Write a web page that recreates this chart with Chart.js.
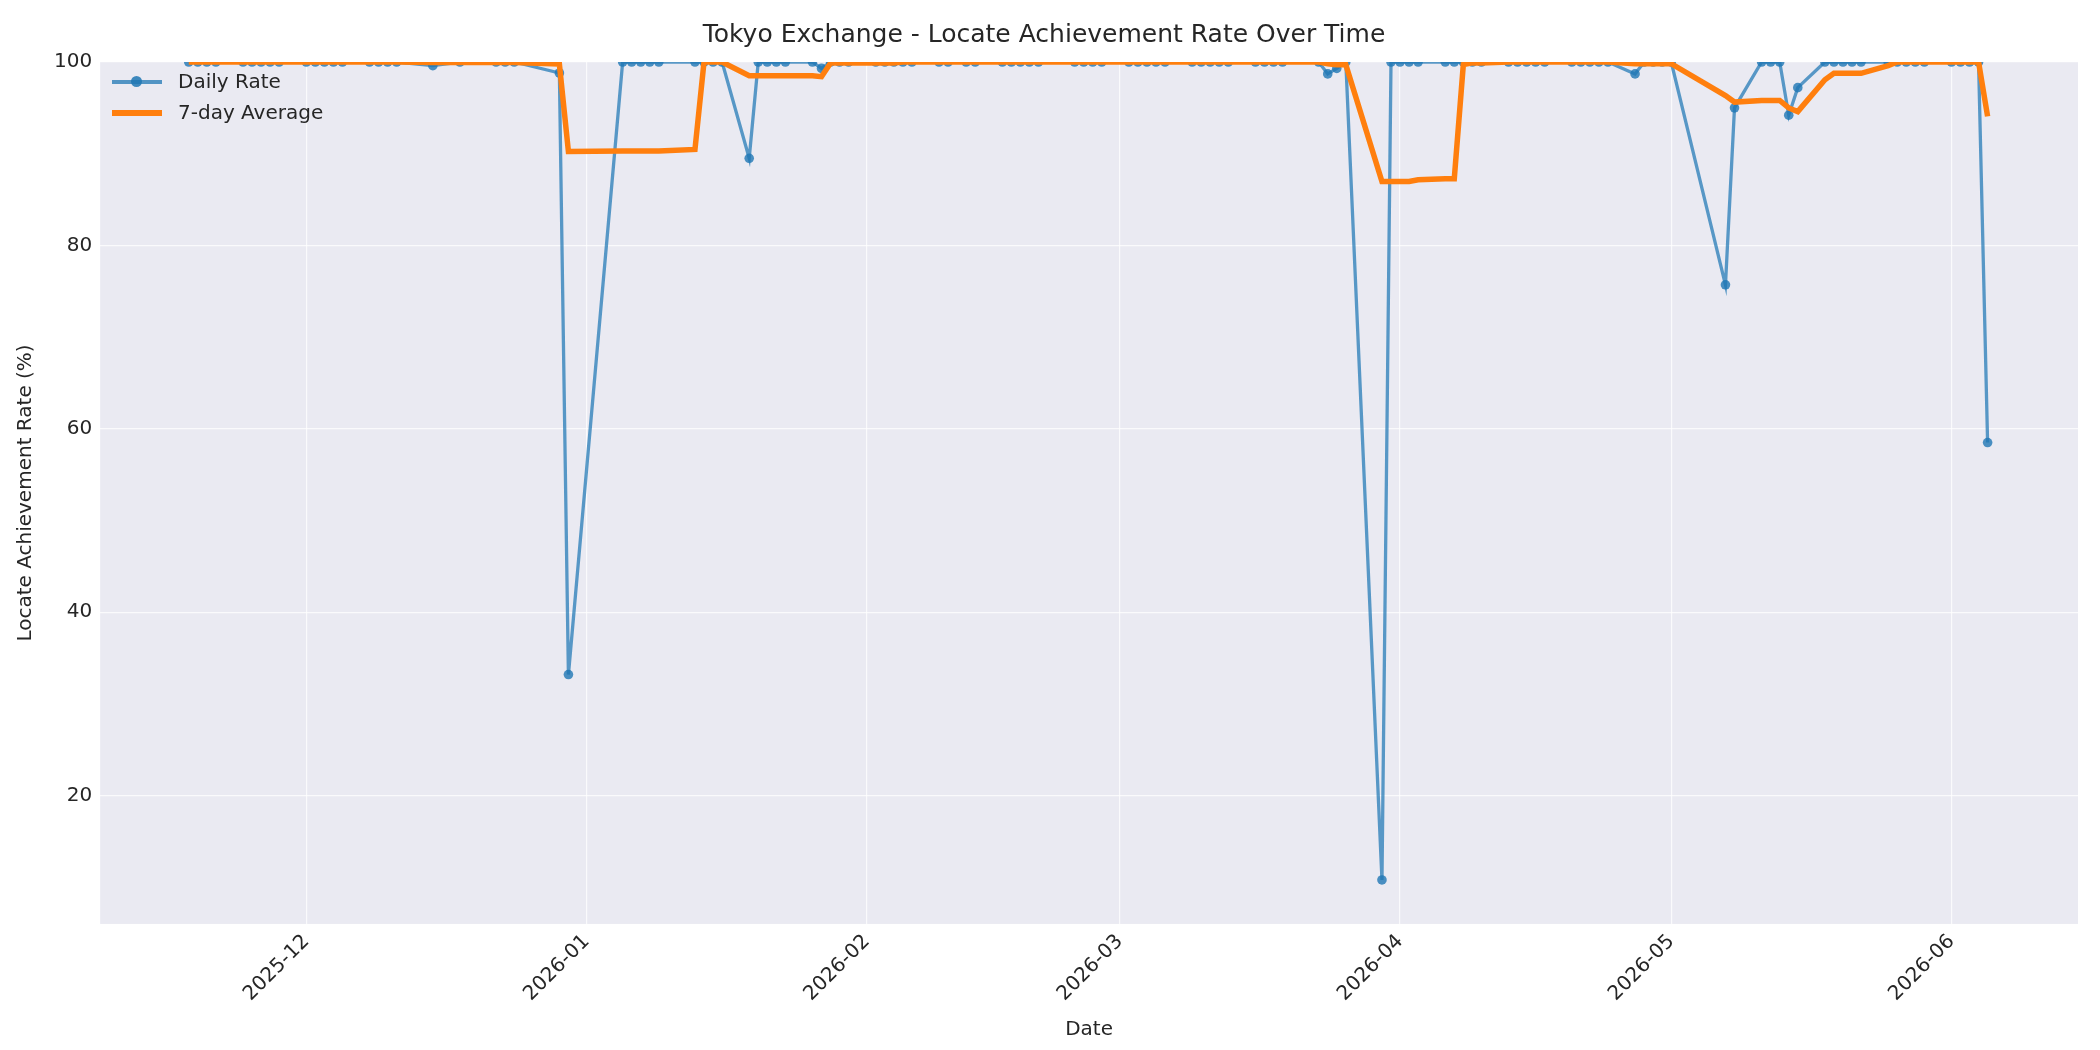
<!DOCTYPE html>
<html><head><meta charset="utf-8">
<script src="https://cdn.jsdelivr.net/npm/chart.js@4.4.1/dist/chart.umd.min.js"></script>
<style>
html,body{margin:0;padding:0;background:#fff;}
#wrap{position:relative;width:2100px;height:1050px;}
#legend{position:absolute;left:112px;top:66px;font-family:"DejaVu Sans";font-size:20px;color:#262626;line-height:31px;}
.li{display:flex;align-items:center;}
.sw{width:50px;height:20px;position:relative;margin-right:16px;}
</style></head>
<body><div id="wrap"><canvas id="c" width="2100" height="1050"></canvas>
<div id="legend">
<div class="li"><div class="sw"><div style="position:absolute;left:0;top:8px;width:50px;height:4px;background:rgba(31,119,180,0.75)"></div><div style="position:absolute;left:19px;top:4px;width:11px;height:11px;border-radius:50%;background:rgba(31,119,180,0.85)"></div></div>Daily Rate</div>
<div class="li"><div class="sw"><div style="position:absolute;left:0;top:7px;width:50px;height:6px;background:#ff7f0e"></div></div>7-day Average</div>
</div></div>
<script>
const dates = [
"2025-11-18","2025-11-19","2025-11-20","2025-11-21",
"2025-11-24","2025-11-25","2025-11-26","2025-11-27","2025-11-28",
"2025-12-01","2025-12-02","2025-12-03","2025-12-04","2025-12-05",
"2025-12-08","2025-12-09","2025-12-10","2025-12-11",
"2025-12-15","2025-12-18",
"2025-12-22","2025-12-23","2025-12-24",
"2025-12-29","2025-12-30",
"2026-01-05","2026-01-06","2026-01-07","2026-01-08","2026-01-09",
"2026-01-13","2026-01-14","2026-01-15","2026-01-16",
"2026-01-19","2026-01-20","2026-01-21","2026-01-22","2026-01-23",
"2026-01-26","2026-01-27","2026-01-28","2026-01-29","2026-01-30",
"2026-02-02","2026-02-03","2026-02-04","2026-02-05","2026-02-06",
"2026-02-09","2026-02-10","2026-02-12","2026-02-13",
"2026-02-16","2026-02-17","2026-02-18","2026-02-19","2026-02-20",
"2026-02-24","2026-02-25","2026-02-26","2026-02-27",
"2026-03-02","2026-03-03","2026-03-04","2026-03-05","2026-03-06",
"2026-03-09","2026-03-10","2026-03-11","2026-03-12","2026-03-13",
"2026-03-16","2026-03-17","2026-03-18","2026-03-19",
"2026-03-23","2026-03-24","2026-03-25","2026-03-26",
"2026-03-30","2026-03-31","2026-04-01","2026-04-02","2026-04-03",
"2026-04-06","2026-04-07","2026-04-08","2026-04-09","2026-04-10",
"2026-04-13","2026-04-14","2026-04-15","2026-04-16","2026-04-17",
"2026-04-20","2026-04-21","2026-04-22","2026-04-23","2026-04-24",
"2026-04-27","2026-04-28","2026-04-29","2026-04-30","2026-05-01",
"2026-05-07","2026-05-08",
"2026-05-11","2026-05-12","2026-05-13","2026-05-14","2026-05-15",
"2026-05-18","2026-05-19","2026-05-20","2026-05-21","2026-05-22",
"2026-05-25","2026-05-26","2026-05-27","2026-05-28","2026-05-29",
"2026-06-01","2026-06-02","2026-06-03","2026-06-04","2026-06-05"];
const dailyRate = [
100,100,100,100,
100,100,100,100,100,
100,100,100,100,100,
100,100,100,100,
99.6,100,
100,100,100,
98.8,33.2,
100,100,100,100,100,
100,100,100,100,
89.5,100,100,100,100,
100,99.3,100,100,100,
100,100,100,100,100,
100,100,100,100,
100,100,100,100,100,
100,100,100,100,
100,100,100,100,100,
100,100,100,100,100,
100,100,100,100,
100,98.7,99.3,100,
10.8,100,100,100,100,
100,100,100,100,100,
100,100,100,100,100,
100,100,100,100,100,
98.7,100,100,100,100,
75.7,95.0,
100,100,100,94.2,97.2,
100,100,100,100,100,
100,100,100,100,100,
100,100,100,100,58.5];
const avg7 = [
100,100,100,100,
100,100,100,100,100,
100,100,100,100,100,
100,100,100,100,
99.94,99.94,
99.94,99.94,99.94,
99.77,90.23,
90.29,90.29,90.29,90.29,90.29,
90.46,100,100,100,
98.5,98.5,98.5,98.5,98.5,
98.5,98.4,99.9,99.9,99.9,
99.9,99.9,99.9,100,100,
100,100,100,100,
100,100,100,100,100,
100,100,100,100,
100,100,100,100,100,
100,100,100,100,100,
100,100,100,100,
100,99.81,99.71,99.71,
86.97,86.97,86.97,86.97,87.16,
87.26,87.26,99.71,99.9,99.9,
100,100,100,100,100,
100,100,100,100,100,
99.81,99.81,99.81,99.81,99.81,
96.34,95.63,
95.81,95.81,95.81,94.99,94.59,
98.06,98.77,98.77,98.77,98.77,
99.6,100,100,100,100,
100,100,100,100,94.07];
const monthTicks = ["2025-12","2026-01","2026-02","2026-03","2026-04","2026-05","2026-06"];
const yTicks = [20,40,60,80,100];

const D0 = Date.UTC(2025,11,1);
const toDay = s => { const p=s.split("-").map(Number); return (Date.UTC(p[0],p[1]-1,p[2]||1)-D0)/86400000; };
const xs = dates.map(toDay);
const tickPos = monthTicks.map(toDay);
const F = "DejaVu Sans";

const bg = {id:'bg',beforeDraw(c){const a=c.chartArea,x=c.ctx;x.save();x.fillStyle='#eaeaf2';x.fillRect(a.left,a.top,a.right-a.left,a.bottom-a.top);x.restore();}};

new Chart(document.getElementById('c'),{
 type:'line',
 data:{datasets:[
  {label:'Daily Rate',data:xs.map((x,i)=>({x,y:dailyRate[i]})),borderColor:'rgba(31,119,180,0.72)',backgroundColor:'rgba(31,119,180,0.8)',borderWidth:3.3,pointRadius:4.8,pointHoverRadius:4.8,pointBorderWidth:0,order:2},
  {label:'7-day Average',data:xs.map((x,i)=>({x,y:avg7[i]})),borderColor:'#ff7f0e',borderWidth:5.5,pointRadius:0,order:1,borderJoinStyle:'miter'}
 ]},
 options:{
  responsive:false,animation:false,devicePixelRatio:1,
  layout:{padding:{left:10,right:22,top:0,bottom:4}},
  plugins:{legend:{display:false},tooltip:{enabled:false},
   title:{display:true,text:'Tokyo Exchange - Locate Achievement Rate Over Time',font:{family:F,size:25,weight:'normal'},color:'#262626',padding:{top:20,bottom:12}}},
  scales:{
   x:{type:'linear',min:-22.8,max:196,
    afterBuildTicks(ax){ax.ticks=tickPos.map(v=>({value:v}));},
    ticks:{callback:(v)=>{const i=tickPos.indexOf(v);return i>=0?monthTicks[i]:'';},maxRotation:45,minRotation:45,font:{family:F,size:20},color:'#262626',padding:6},
    grid:{color:'rgba(255,255,255,0.75)',lineWidth:1.2,drawTicks:false},border:{display:false},
    title:{display:true,text:'Date',font:{family:F,size:20},color:'#262626',padding:{top:6}}},
   y:{min:6,max:100,
    afterBuildTicks(ax){ax.ticks=yTicks.map(v=>({value:v}));},
    ticks:{font:{family:F,size:20},color:'#262626',padding:8},
    grid:{color:'rgba(255,255,255,0.75)',lineWidth:1.2,drawTicks:false},border:{display:false},
    title:{display:true,text:'Locate Achievement Rate (%)',font:{family:F,size:20},color:'#262626',padding:{bottom:8}}}
  }
 },
 plugins:[bg]
});
</script></body></html>
